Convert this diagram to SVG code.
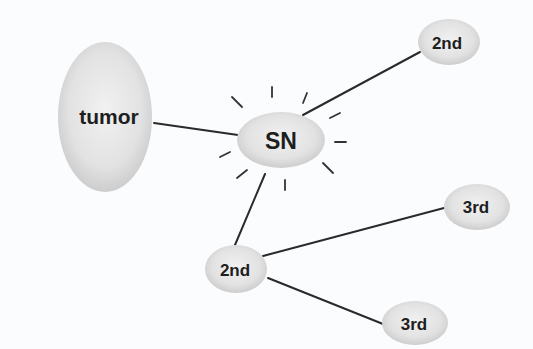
<svg xmlns="http://www.w3.org/2000/svg" width="533" height="349" viewBox="0 0 533 349">
<defs>
<radialGradient id="g" cx="50%" cy="45%" r="55%">
<stop offset="0" stop-color="#f1f1f1"/>
<stop offset="0.7" stop-color="#e2e2e2"/>
<stop offset="1" stop-color="#cdcdcd"/>
</radialGradient>
<style>
.n{fill:url(#g);}
.t{font-family:"Liberation Sans",Arial,sans-serif;font-weight:bold;fill:#1e1e1e;text-anchor:middle;}
.c{stroke:#2a2a2a;stroke-width:2;fill:none;stroke-linecap:round;}
.r{stroke:#333;stroke-width:1.8;stroke-linecap:round;}
</style>
</defs>
<rect width="533" height="349" fill="#fbfcfd"/>
<g id="connectors">
<line class="c" x1="154" y1="123" x2="238" y2="135"/>
<line class="c" x1="303" y1="115" x2="420" y2="52"/>
<line class="c" x1="265" y1="174" x2="235" y2="245"/>
<line class="c" x1="263" y1="256" x2="444" y2="208"/>
<line class="c" x1="268" y1="278" x2="383" y2="324"/>
</g>
<g id="rays">
<line class="r" x1="232" y1="97" x2="242" y2="107"/>
<line class="r" x1="272" y1="87" x2="272" y2="97"/>
<line class="r" x1="307" y1="93" x2="303" y2="103"/>
<line class="r" x1="330" y1="118" x2="340" y2="113"/>
<line class="r" x1="335" y1="142" x2="346" y2="142"/>
<line class="r" x1="323" y1="163" x2="333" y2="173"/>
<line class="r" x1="285" y1="180" x2="285" y2="190"/>
<line class="r" x1="237" y1="178" x2="247" y2="170"/>
<line class="r" x1="220" y1="157" x2="230" y2="152"/>
</g>
<g id="tumor">
<ellipse class="n" cx="105" cy="117" rx="47" ry="75"/>
<text class="t" x="109" y="124" font-size="21">tumor</text>
</g>
<g id="SN">
<ellipse class="n" cx="281" cy="140" rx="44" ry="28"/>
<text class="t" x="281" y="149" font-size="23">SN</text>
</g>
<g id="second-top">
<ellipse class="n" cx="449" cy="42" rx="31" ry="23"/>
<text class="t" x="447" y="49" font-size="17">2nd</text>
</g>
<g id="second-bottom">
<ellipse class="n" cx="236" cy="269" rx="31" ry="24"/>
<text class="t" x="235" y="276" font-size="17">2nd</text>
</g>
<g id="third-top">
<ellipse class="n" cx="477" cy="207" rx="33" ry="23"/>
<text class="t" x="476" y="213" font-size="17">3rd</text>
</g>
<g id="third-bottom">
<ellipse class="n" cx="415" cy="323" rx="33" ry="22"/>
<text class="t" x="414" y="330" font-size="17">3rd</text>
</g>
</svg>
